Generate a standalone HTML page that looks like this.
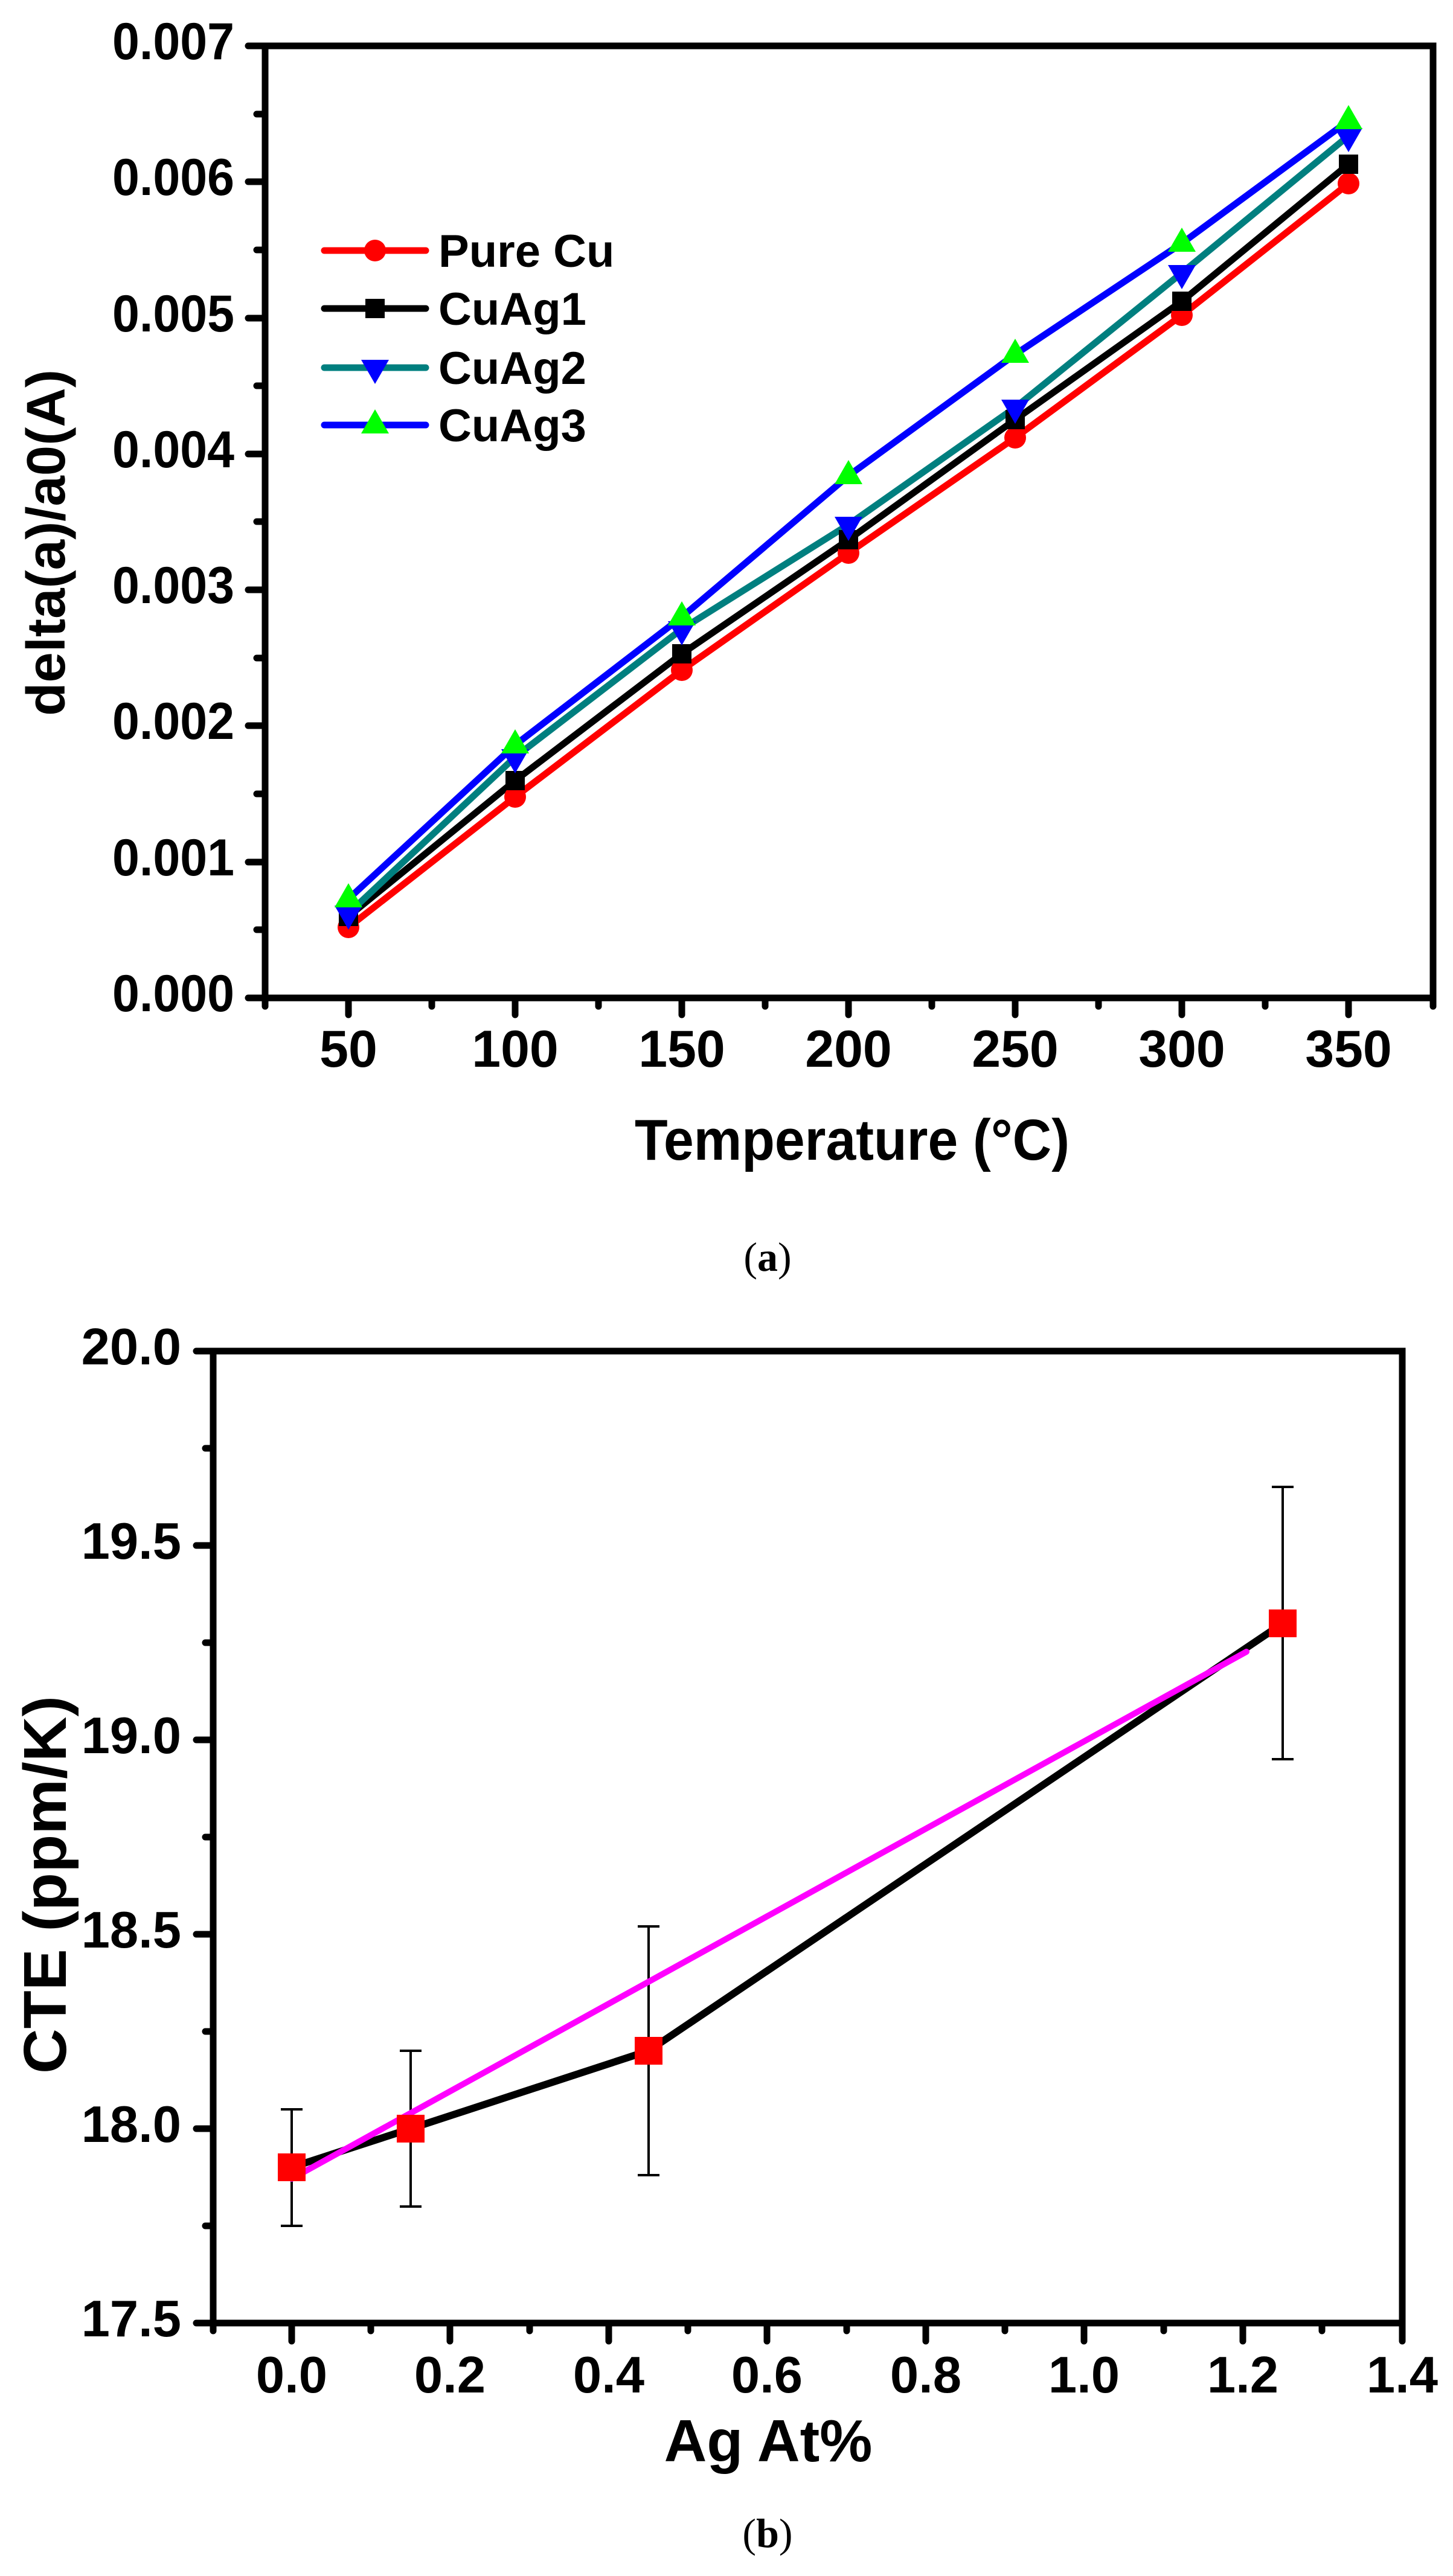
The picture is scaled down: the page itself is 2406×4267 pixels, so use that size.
<!DOCTYPE html>
<html><head><meta charset="utf-8"><style>
html,body{margin:0;padding:0;background:#fff}
svg{display:block}
text{font-family:"Liberation Sans",Arial,sans-serif;font-weight:bold;fill:#000}
.cap{font-family:"Liberation Serif",serif;font-weight:normal}
</style></head><body>
<svg width="2406" height="4267" viewBox="0 0 2406 4267" xmlns="http://www.w3.org/2000/svg">
<rect width="2406" height="4267" fill="#fff"/>
<g stroke="#000" stroke-width="11" stroke-linecap="round" fill="none">
 <rect x="439" y="76" width="1934" height="1577"/>
 <path d="M439 1653h-28M439 1428h-28M439 1202h-28M439 977h-28M439 752h-28M439 527h-28M439 301h-28M439 76h-28"/>
 <path d="M439 1540h-14M439 1315h-14M439 1090h-14M439 864h-14M439 639h-14M439 414h-14M439 189h-14"/>
 <path d="M577 1653v28M853 1653v28M1129 1653v28M1405 1653v28M1681 1653v28M1957 1653v28M2233 1653v28"/>
 <path d="M439 1653v14M715 1653v14M991 1653v14M1267 1653v14M1543 1653v14M1819 1653v14M2095 1653v14M2373 1653v14"/>
</g>
<g font-size="86" text-anchor="end">
 <text x="388" y="1675" textLength="202" lengthAdjust="spacingAndGlyphs">0.000</text>
 <text x="388" y="1450" textLength="202" lengthAdjust="spacingAndGlyphs">0.001</text>
 <text x="388" y="1224" textLength="202" lengthAdjust="spacingAndGlyphs">0.002</text>
 <text x="388" y="999" textLength="202" lengthAdjust="spacingAndGlyphs">0.003</text>
 <text x="388" y="774" textLength="202" lengthAdjust="spacingAndGlyphs">0.004</text>
 <text x="388" y="549" textLength="202" lengthAdjust="spacingAndGlyphs">0.005</text>
 <text x="388" y="323" textLength="202" lengthAdjust="spacingAndGlyphs">0.006</text>
 <text x="388" y="98" textLength="202" lengthAdjust="spacingAndGlyphs">0.007</text>
</g>
<g font-size="86" text-anchor="middle">
 <text x="577" y="1767">50</text><text x="853" y="1767">100</text><text x="1129" y="1767">150</text>
 <text x="1405" y="1767">200</text><text x="1681" y="1767">250</text><text x="1957" y="1767">300</text><text x="2233" y="1767">350</text>
</g>
<text x="1411" y="1921" font-size="96" text-anchor="middle" textLength="720" lengthAdjust="spacingAndGlyphs">Temperature (°C)</text>
<text transform="translate(107,899) rotate(-90)" font-size="90" text-anchor="middle" textLength="574" lengthAdjust="spacingAndGlyphs">delta(a)/a0(A)</text>
<g fill="none" stroke-width="11" stroke-linejoin="round">
 <polyline stroke="#ff0000" points="577,1536 853,1320 1129,1110 1405,916 1681,725 1957,522 2233,304"/>
 <polyline stroke="#000" points="577,1518 853,1293 1129,1083 1405,894 1681,695 1957,499 2233,272"/>
 <polyline stroke="#007f7f" points="577,1513 853,1254 1129,1042 1405,869 1681,675 1957,452 2233,225"/>
 <polyline stroke="#0000ff" points="577,1489 853,1234 1129,1022 1405,788 1681,587 1957,403 2233,200"/>
</g>
<g fill="#ff0000">
 <circle cx="577" cy="1536" r="18"/><circle cx="853" cy="1320" r="18"/><circle cx="1129" cy="1110" r="18"/><circle cx="1405" cy="916" r="18"/><circle cx="1681" cy="725" r="18"/><circle cx="1957" cy="522" r="18"/><circle cx="2233" cy="304" r="18"/>
</g>
<g fill="#000">
 <rect x="561" y="1502" width="32" height="32"/><rect x="837" y="1277" width="32" height="32"/><rect x="1113" y="1067" width="32" height="32"/><rect x="1389" y="878" width="32" height="32"/><rect x="1665" y="679" width="32" height="32"/><rect x="1941" y="483" width="32" height="32"/><rect x="2217" y="256" width="32" height="32"/>
</g>
<g fill="#0000ff">
 <path d="M554 1500h46l-23 40z"/><path d="M830 1241h46l-23 40z"/><path d="M1106 1029h46l-23 40z"/><path d="M1382 856h46l-23 40z"/><path d="M1658 662h46l-23 40z"/><path d="M1934 439h46l-23 40z"/><path d="M2210 212h46l-23 40z"/>
</g>
<g fill="#00ff00">
 <path d="M554 1503h46l-23-40z"/><path d="M830 1248h46l-23-40z"/><path d="M1106 1036h46l-23-40z"/><path d="M1382 802h46l-23-40z"/><path d="M1658 601h46l-23-40z"/><path d="M1934 417h46l-23-40z"/><path d="M2210 214h46l-23-40z"/>
</g>
<g stroke-width="11" stroke-linecap="round">
 <line x1="537" y1="415" x2="705" y2="415" stroke="#ff0000"/>
 <line x1="537" y1="511" x2="705" y2="511" stroke="#000"/>
 <line x1="537" y1="609" x2="705" y2="609" stroke="#007f7f"/>
 <line x1="537" y1="704" x2="705" y2="704" stroke="#0000ff"/>
</g>
<circle cx="621" cy="415" r="18" fill="#ff0000"/>
<rect x="605" y="495" width="32" height="32" fill="#000"/>
<path d="M598 596h46l-23 40z" fill="#0000ff"/>
<path d="M598 718h46l-23-40z" fill="#00ff00"/>
<g font-size="76">
 <text x="726" y="442">Pure Cu</text>
 <text x="726" y="538">CuAg1</text>
 <text x="726" y="636">CuAg2</text>
 <text x="726" y="731">CuAg3</text>
</g>
<text class="cap" x="1271" y="2105" font-size="68" text-anchor="middle">(<tspan font-weight="bold">a</tspan>)</text>

<g stroke="#000" stroke-width="11" stroke-linecap="round" fill="none">
 <rect x="353" y="2238" width="1969" height="1610"/>
 <path d="M353 3848h-28M353 3526h-28M353 3204h-28M353 2882h-28M353 2560h-28M353 2238h-28"/>
 <path d="M353 3687h-13M353 3365h-13M353 3043h-13M353 2721h-13M353 2399h-13"/>
 <path d="M483 3848v30M745 3848v30M1008 3848v30M1270 3848v30M1533 3848v30M1795 3848v30M2058 3848v30M2322 3848v30"/>
 <path d="M353 3848v13M614 3848v13M877 3848v13M1139 3848v13M1402 3848v13M1664 3848v13M1927 3848v13M2189 3848v13"/>
</g>
<g font-size="85" text-anchor="end">
 <text x="300" y="3870">17.5</text><text x="300" y="3548">18.0</text><text x="300" y="3226">18.5</text>
 <text x="300" y="2904">19.0</text><text x="300" y="2582">19.5</text><text x="300" y="2260">20.0</text>
</g>
<g font-size="85" text-anchor="middle">
 <text x="483" y="3963">0.0</text><text x="745" y="3963">0.2</text><text x="1008" y="3963">0.4</text><text x="1270" y="3963">0.6</text>
 <text x="1533" y="3963">0.8</text><text x="1795" y="3963">1.0</text><text x="2058" y="3963">1.2</text><text x="2322" y="3963">1.4</text>
</g>
<text x="1272" y="4077" font-size="98" text-anchor="middle">Ag At%</text>
<text transform="translate(109,3122) rotate(-90)" font-size="100" text-anchor="middle" textLength="626" lengthAdjust="spacingAndGlyphs">CTE (ppm/K)</text>
<g stroke="#000" stroke-width="4" fill="none">
 <path d="M483 3687V3494M465 3687h36M465 3494h36"/>
 <path d="M680 3655V3397M662 3655h36M662 3397h36"/>
 <path d="M1074 3603V3191M1056 3603h36M1056 3191h36"/>
 <path d="M2124 2914V2463M2106 2914h36M2106 2463h36"/>
</g>
<polyline points="483,3590 680,3526 1074,3397 2124,2689" fill="none" stroke="#000" stroke-width="12" stroke-linejoin="round"/>
<line x1="483" y1="3609" x2="2064" y2="2736" stroke="#ff00ff" stroke-width="10" stroke-linecap="round"/>
<g fill="#ff0000">
 <rect x="460" y="3567" width="46" height="46"/><rect x="657" y="3503" width="46" height="46"/>
 <rect x="1051" y="3374" width="46" height="46"/><rect x="2101" y="2666" width="46" height="46"/>
</g>
<text class="cap" x="1271" y="4219" font-size="68" text-anchor="middle">(<tspan font-weight="bold">b</tspan>)</text>
</svg>
</body></html>
